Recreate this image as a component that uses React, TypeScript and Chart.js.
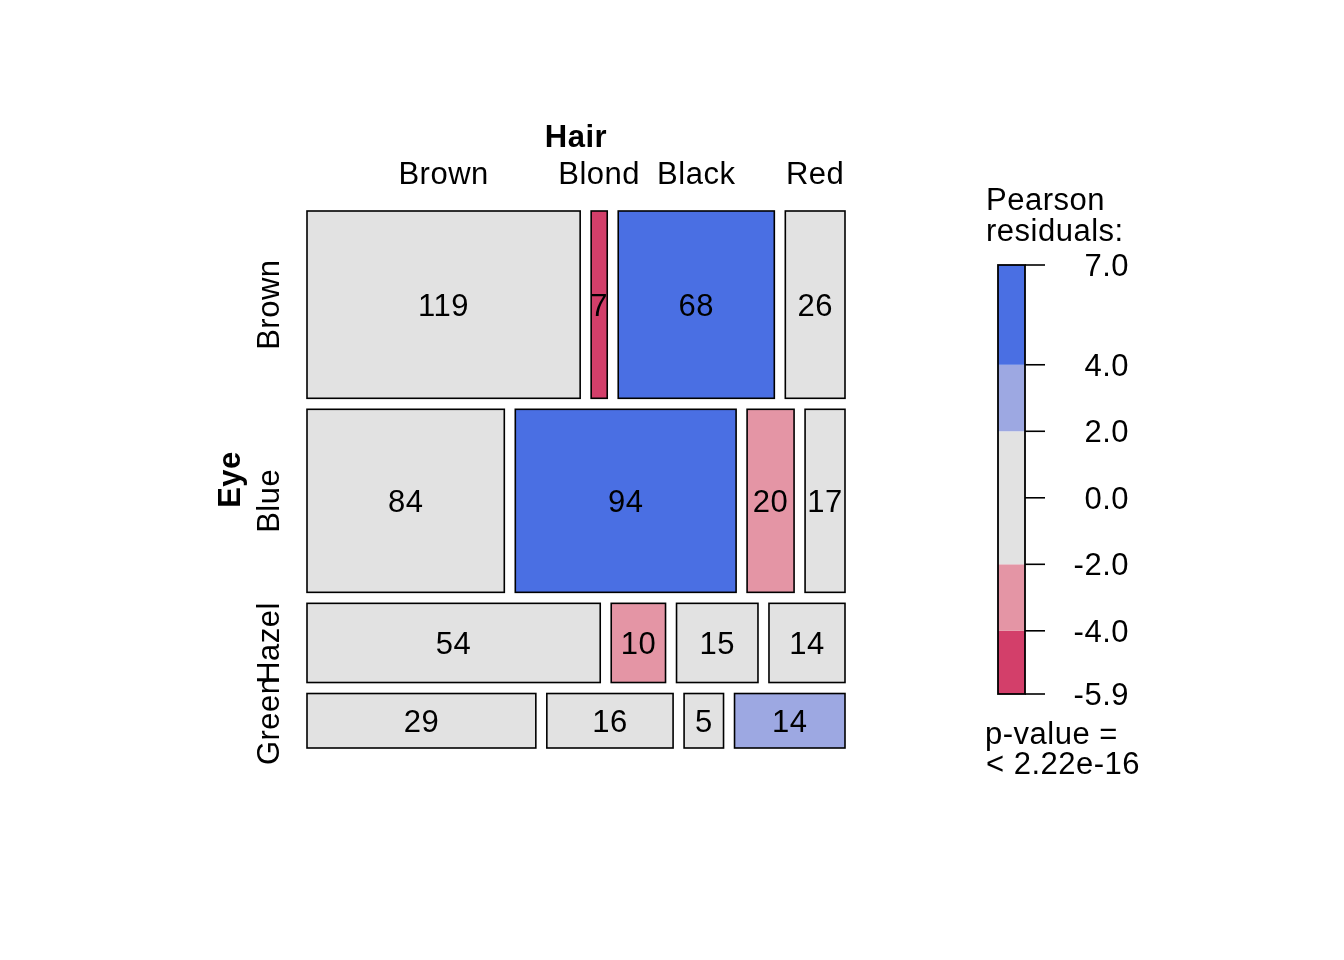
import React, { useEffect, useRef } from "react";
import { Chart, registerables } from "chart.js";

Chart.register(...registerables);

const eyeLevels = ["Brown", "Blue", "Hazel", "Green"];
const hairLevels = ["Brown", "Blond", "Black", "Red"];
const brownEye = [119, 7, 68, 26];
const blueEye = [84, 94, 20, 17];
const hazelEye = [54, 10, 15, 14];
const greenEye = [29, 16, 5, 14];
const counts = [brownEye, blueEye, hazelEye, greenEye];
const legendTicks = [7.0, 4.0, 2.0, 0.0, -2.0, -4.0, -5.9];
const legendBreaks = [-5.9, -4, -2, 2, 4, 7];
const shadeColors = ["#D33F6A", "#E495A5", "#E2E2E2", "#9DA8E2", "#4A6FE3"];

const FONT = "'Liberation Sans', Arial, Helvetica, sans-serif";
const FS = 31;
const LS = "0.5px";

function shade(r: number) {
  if (r > 4) return shadeColors[4];
  if (r > 2) return shadeColors[3];
  if (r < -4) return shadeColors[0];
  if (r < -2) return shadeColors[1];
  return shadeColors[2];
}

const rowTotals = counts.map((r) => r.reduce((a, b) => a + b, 0));
const colTotals = hairLevels.map((_, j) => counts.reduce((a, r) => a + r[j], 0));
const grand = rowTotals.reduce((a, b) => a + b, 0);

const GX = 11 / 538;
const GY = 11 / 537;

type Cell = { x0: number; x1: number; y0: number; y1: number; n: number; res: number; i: number; j: number };

function buildCells(): Cell[] {
  const cells: Cell[] = [];
  let yc = 0;
  counts.forEach((row, i) => {
    const h = ((1 - 3 * GY) * rowTotals[i]) / grand;
    let xc = 0;
    row.forEach((n, j) => {
      const w = ((1 - 3 * GX) * n) / rowTotals[i];
      const e = (rowTotals[i] * colTotals[j]) / grand;
      cells.push({ x0: xc, x1: xc + w, y0: yc, y1: yc + h, n, res: (n - e) / Math.sqrt(e), i, j });
      xc += w + GX;
    });
    yc += h + GY;
  });
  return cells;
}

function setFont(ctx: any, bold = false) {
  ctx.font = `${bold ? "bold " : ""}${FS}px ${FONT}`;
  try {
    ctx.letterSpacing = LS;
  } catch (e) {}
}

const mosaicPlugin = {
  id: "mosaic",
  afterDatasetsDraw(chart: any) {
    const { ctx } = chart;
    const x = chart.scales.x;
    const y = chart.scales.y;
    const cells = buildCells();
    ctx.save();
    cells.forEach((c) => {
      const px0 = x.getPixelForValue(c.x0);
      const px1 = x.getPixelForValue(c.x1);
      const py0 = y.getPixelForValue(c.y0);
      const py1 = y.getPixelForValue(c.y1);
      ctx.fillStyle = shade(c.res);
      ctx.fillRect(px0, py0, px1 - px0, py1 - py0);
      ctx.strokeStyle = "#000";
      ctx.lineWidth = 1.6;
      ctx.strokeRect(px0, py0, px1 - px0, py1 - py0);
      ctx.fillStyle = "#000";
      setFont(ctx);
      ctx.textAlign = "center";
      ctx.textBaseline = "alphabetic";
      ctx.fillText(String(c.n), (px0 + px1) / 2, (py0 + py1) / 2 + 11);
    });
    // top labels (first row positions)
    setFont(ctx);
    ctx.textAlign = "center";
    cells
      .filter((c) => c.i === 0)
      .forEach((c) => {
        const cx = (x.getPixelForValue(c.x0) + x.getPixelForValue(c.x1)) / 2;
        ctx.fillText(hairLevels[c.j], cx, y.getPixelForValue(0) - 27);
      });
    setFont(ctx, true);
    ctx.fillText("Hair", (x.getPixelForValue(0) + x.getPixelForValue(1)) / 2, y.getPixelForValue(0) - 64);
    // left labels
    cells
      .filter((c) => c.j === 0)
      .forEach((c) => {
        const cy = (y.getPixelForValue(c.y0) + y.getPixelForValue(c.y1)) / 2;
        ctx.save();
        ctx.translate(x.getPixelForValue(0) - 28, cy);
        ctx.rotate(-Math.PI / 2);
        setFont(ctx);
        ctx.textAlign = "center";
        ctx.fillText(eyeLevels[c.i], 0, 0);
        ctx.restore();
      });
    ctx.save();
    ctx.translate(x.getPixelForValue(0) - 67, (y.getPixelForValue(0) + y.getPixelForValue(1)) / 2);
    ctx.rotate(-Math.PI / 2);
    setFont(ctx, true);
    ctx.textAlign = "center";
    ctx.fillText("Eye", 0, 0);
    ctx.restore();
    ctx.restore();
  },
};

const legendPlugin = {
  id: "residLegend",
  afterDatasetsDraw(chart: any) {
    const { ctx } = chart;
    const x = chart.scales.x;
    const y = chart.scales.y;
    const left = x.getPixelForValue(0);
    const right = x.getPixelForValue(1);
    ctx.save();
    for (let k = 0; k < legendBreaks.length - 1; k++) {
      const a = y.getPixelForValue(legendBreaks[k]);
      const b = y.getPixelForValue(legendBreaks[k + 1]);
      ctx.fillStyle = shadeColors[k];
      ctx.fillRect(left, b, right - left, a - b);
    }
    ctx.strokeStyle = "#000";
    ctx.lineWidth = 1.8;
    const top = y.getPixelForValue(legendTicks[0]);
    const bot = y.getPixelForValue(legendTicks[legendTicks.length - 1]);
    ctx.strokeRect(left, top, right - left, bot - top);
    ctx.lineWidth = 1.6;
    ctx.fillStyle = "#000";
    setFont(ctx);
    ctx.textAlign = "right";
    ctx.textBaseline = "alphabetic";
    legendTicks.forEach((t) => {
      const py = y.getPixelForValue(t);
      ctx.beginPath();
      ctx.moveTo(right, py);
      ctx.lineTo(right + 20, py);
      ctx.stroke();
      ctx.fillText(t.toFixed(1), right + 104, py + 11);
    });
    ctx.textAlign = "left";
    ctx.fillText("Pearson", left - 12, top - 55);
    ctx.fillText("residuals:", left - 12, top - 24);
    ctx.fillText("p-value =", left - 13, bot + 50);
    ctx.fillText("< 2.22e-16", left - 12, bot + 80);
    ctx.restore();
  },
};

function makeChart(canvas: HTMLCanvasElement, padding: any, plugin: any, ymin: number, ymax: number, reverse: boolean) {
  return new Chart(canvas, {
    type: "scatter",
    data: { datasets: [{ data: [], pointRadius: 0 }] },
    options: {
      animation: false,
      responsive: false,
      events: [],
      layout: { padding },
      plugins: { legend: { display: false }, tooltip: { enabled: false } },
      scales: {
        x: { type: "linear", min: 0, max: 1, display: false },
        y: { type: "linear", min: ymin, max: ymax, reverse, display: false },
      },
    },
    plugins: [plugin],
  });
}

export default function App() {
  const mosaicRef = useRef<HTMLCanvasElement>(null);
  const legendRef = useRef<HTMLCanvasElement>(null);
  useEffect(() => {
    const c1 = makeChart(mosaicRef.current!, { left: 307, right: 1344 - 845, top: 211, bottom: 960 - 748 }, mosaicPlugin, 0, 1, true);
    const c2 = makeChart(legendRef.current!, { left: 998, right: 1344 - 1025, top: 265, bottom: 960 - 694 }, legendPlugin, -5.9, 7, false);
    return () => {
      c1.destroy();
      c2.destroy();
    };
  }, []);
  const st: React.CSSProperties = { position: "absolute", left: 0, top: 0, width: 1344, height: 960, display: "block" };
  return (
    <div style={{ position: "absolute", left: 0, top: 0, width: 1344, height: 960, background: "#fff" }}>
      <canvas ref={mosaicRef} width={1344} height={960} style={st} />
      <canvas ref={legendRef} width={1344} height={960} style={st} />
    </div>
  );
}
